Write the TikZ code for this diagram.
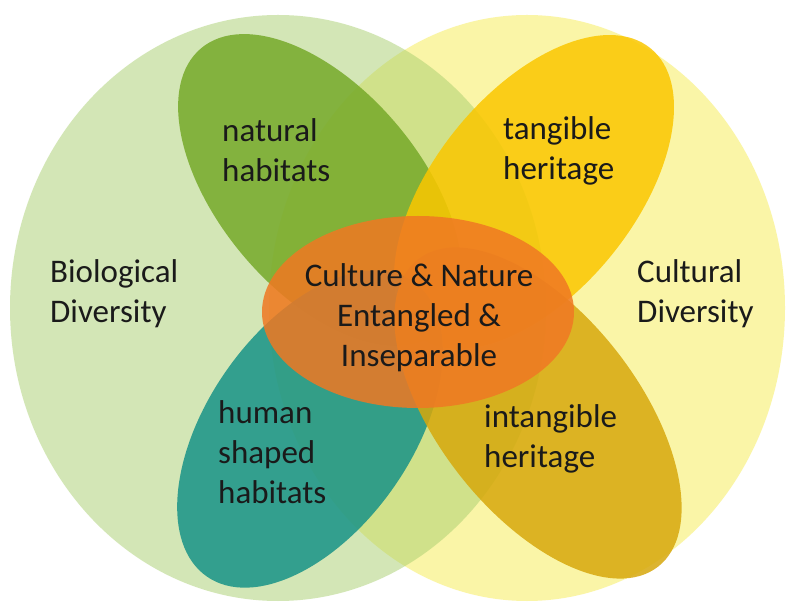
\documentclass[tikz,border=0pt]{standalone}
\usepackage{fontspec}
\setmainfont{Carlito}
\definecolor{cBioGreen}{HTML}{A8CF6E}
\definecolor{cCultYellow}{HTML}{F7EC50}
\definecolor{cLeafGreen}{HTML}{76A929}
\definecolor{cGold}{HTML}{FAC700}
\definecolor{cTeal}{HTML}{189387}
\definecolor{cOchre}{HTML}{D7A80C}
\definecolor{cOrange}{HTML}{F07823}
\definecolor{cInk}{HTML}{1A1A1A}

\begin{document}
\begin{tikzpicture}[
  x=1pt, y=1pt,
  circ/.style={fill opacity=0.5},
  petal/.style={fill opacity=0.85},
  lbl/.style={font=\fontsize{33}{40}\selectfont, text=cInk, inner sep=0pt,
              align=left, anchor=west},
]
\fill[white] (0,0) rectangle (787,608);
\useasboundingbox (0,0) rectangle (787,608);

% ---------- diversity circles ----------
\fill[circ, cCultYellow] (527,300) ellipse [x radius=258pt, y radius=293pt];
\fill[circ, cBioGreen] (278,300) ellipse [x radius=268pt, y radius=293pt];

% ---------- petals ----------
\fill[petal, cLeafGreen, rotate around={-50:(320,418)}]
  (320,418) ellipse [x radius=185pt, y radius=101pt];
\fill[petal, cGold, rotate around={51:(534,416)}]
  (534,416) ellipse [x radius=185pt, y radius=100pt];
\fill[petal, cTeal, rotate around={55:(310,179)}]
  (310,179) ellipse [x radius=180pt, y radius=102pt];
\fill[petal, cOchre, rotate around={-52:(538,195)}]
  (538,195) ellipse [x radius=195pt, y radius=100pt];

% ---------- core ----------
\fill[petal, cOrange] (418,296) ellipse [x radius=156pt, y radius=96pt];

% ---------- labels ----------
\node[lbl] (natural) at (222,458) {natural\\habitats};
\node[lbl] (tangible) at (503,457) {tangible\\heritage};
\node[lbl] (bio) at (50,314) {Biological\\Diversity};
\node[lbl] (cult) at (637,314) {Cultural\\Diversity};
\node[lbl] (human) at (218,156) {human\\shaped\\habitats};
\node[lbl] (intang) at (484,169) {intangible\\heritage};
\node[lbl, align=center, anchor=center] (core) at (419,290)
  {Culture \& Nature\\Entangled \&\\Inseparable};

\end{tikzpicture}
\end{document}
